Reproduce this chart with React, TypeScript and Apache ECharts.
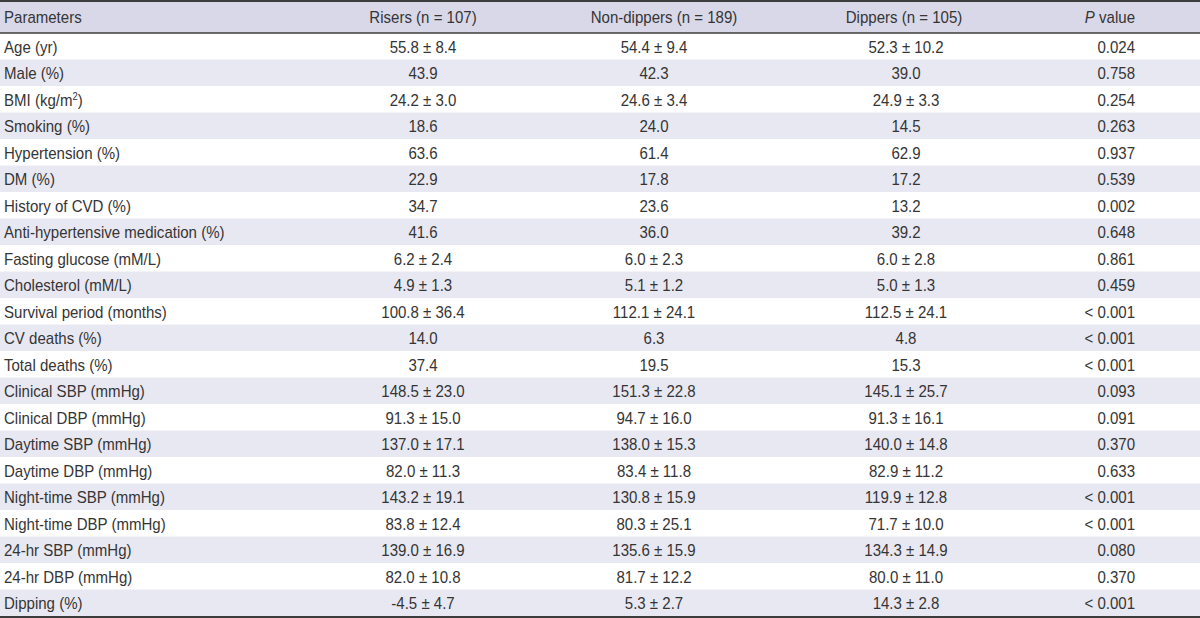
import React, { useEffect, useRef } from "react";
import * as echarts from "echarts";

const headers = ["Parameters", "Risers (n = 107)", "Non-dippers (n = 189)", "Dippers (n = 105)", "{i|P} value"];
const parameters = [
  "Age (yr)", "Male (%)", "BMI (kg/m{sup|2})", "Smoking (%)", "Hypertension (%)", "DM (%)",
  "History of CVD (%)", "Anti-hypertensive medication (%)", "Fasting glucose (mM/L)",
  "Cholesterol (mM/L)", "Survival period (months)", "CV deaths (%)", "Total deaths (%)",
  "Clinical SBP (mmHg)", "Clinical DBP (mmHg)", "Daytime SBP (mmHg)", "Daytime DBP (mmHg)",
  "Night-time SBP (mmHg)", "Night-time DBP (mmHg)", "24-hr SBP (mmHg)", "24-hr DBP (mmHg)", "Dipping (%)",
];
const risers = [
  "55.8 ± 8.4", "43.9", "24.2 ± 3.0", "18.6", "63.6", "22.9", "34.7", "41.6", "6.2 ± 2.4", "4.9 ± 1.3",
  "100.8 ± 36.4", "14.0", "37.4", "148.5 ± 23.0", "91.3 ± 15.0", "137.0 ± 17.1", "82.0 ± 11.3",
  "143.2 ± 19.1", "83.8 ± 12.4", "139.0 ± 16.9", "82.0 ± 10.8", "-4.5 ± 4.7",
];
const nonDippers = [
  "54.4 ± 9.4", "42.3", "24.6 ± 3.4", "24.0", "61.4", "17.8", "23.6", "36.0", "6.0 ± 2.3", "5.1 ± 1.2",
  "112.1 ± 24.1", "6.3", "19.5", "151.3 ± 22.8", "94.7 ± 16.0", "138.0 ± 15.3", "83.4 ± 11.8",
  "130.8 ± 15.9", "80.3 ± 25.1", "135.6 ± 15.9", "81.7 ± 12.2", "5.3 ± 2.7",
];
const dippers = [
  "52.3 ± 10.2", "39.0", "24.9 ± 3.3", "14.5", "62.9", "17.2", "13.2", "39.2", "6.0 ± 2.8", "5.0 ± 1.3",
  "112.5 ± 24.1", "4.8", "15.3", "145.1 ± 25.7", "91.3 ± 16.1", "140.0 ± 14.8", "82.9 ± 11.2",
  "119.9 ± 12.8", "71.7 ± 10.0", "134.3 ± 14.9", "80.0 ± 11.0", "14.3 ± 2.8",
];
const pValues = [
  "0.024", "0.758", "0.254", "0.263", "0.937", "0.539", "0.002", "0.648", "0.861", "0.459",
  "< 0.001", "< 0.001", "< 0.001", "0.093", "0.091", "0.370", "0.633", "< 0.001", "< 0.001",
  "0.080", "0.370", "< 0.001",
];

const W = 1200;
const H = 618;
const FONT_FAMILY = "'Liberation Sans', Arial, sans-serif";
const FONT_SIZE = 16;
const SCALE_X = 0.94;
const TEXT_COLOR = "#353535";
const HEADER_BG = "#d8d8e9";
const STRIPE_BG = "#e8e8f2";
const RULE = "#3c3c3c";

export default function App() {
  const ref = useRef<HTMLDivElement>(null);
  useEffect(() => {
    document.body.style.margin = "0";
    const chart = echarts.init(ref.current!, null, { renderer: "svg" });
    const headerH = 33;
    const top = 33;
    const bottom = 616;
    const rowH = (bottom - top) / parameters.length;
    const headerX = [4, 423, 664, 904, 1135];
    const valueX = [4, 423, 654, 906, 1135];
    const aligns = ["left", "center", "center", "center", "right"];
    const rich = {
      sup: { fontSize: 10, verticalAlign: "top", fill: TEXT_COLOR, fontFamily: FONT_FAMILY, padding: [0, 0, 8, 0] },
      i: { fontStyle: "italic", fontSize: FONT_SIZE, fill: TEXT_COLOR, fontFamily: FONT_FAMILY },
    };
    const textEl = (text: string, x: number, y: number, align: string) => ({
      type: "text",
      x,
      y,
      scaleX: SCALE_X,
      silent: true,
      style: {
        text,
        fill: TEXT_COLOR,
        fontSize: FONT_SIZE,
        fontFamily: FONT_FAMILY,
        align,
        verticalAlign: "middle",
        rich,
      },
    });
    const elements: any[] = [];
    elements.push({ type: "rect", shape: { x: 0, y: 0, width: W, height: headerH }, style: { fill: HEADER_BG }, silent: true });
    parameters.forEach((_, i) => {
      if (i % 2 === 1) {
        elements.push({ type: "rect", shape: { x: 0, y: top + i * rowH, width: W, height: rowH }, style: { fill: STRIPE_BG }, silent: true });
      }
    });
    elements.push({ type: "line", shape: { x1: 0, y1: 1, x2: W, y2: 1 }, style: { stroke: RULE, lineWidth: 2 }, silent: true });
    elements.push({ type: "line", shape: { x1: 0, y1: headerH, x2: W, y2: headerH }, style: { stroke: RULE, lineWidth: 1.5 }, silent: true });
    elements.push({ type: "line", shape: { x1: 0, y1: bottom + 1, x2: W, y2: bottom + 1 }, style: { stroke: RULE, lineWidth: 2 }, silent: true });
    headers.forEach((h, c) => elements.push(textEl(h, headerX[c], headerH / 2 + 1, aligns[c])));
    const cols = [parameters, risers, nonDippers, dippers, pValues];
    parameters.forEach((_, i) => {
      const y = top + i * rowH + rowH / 2 + 1;
      cols.forEach((col, c) => elements.push(textEl(col[i], valueX[c], y, aligns[c])));
    });
    chart.setOption({ animation: false, backgroundColor: "#ffffff", graphic: { elements } });
    return () => chart.dispose();
  }, []);
  return <div ref={ref} style={{ width: W, height: H, position: "absolute", left: 0, top: 0 }} />;
}
